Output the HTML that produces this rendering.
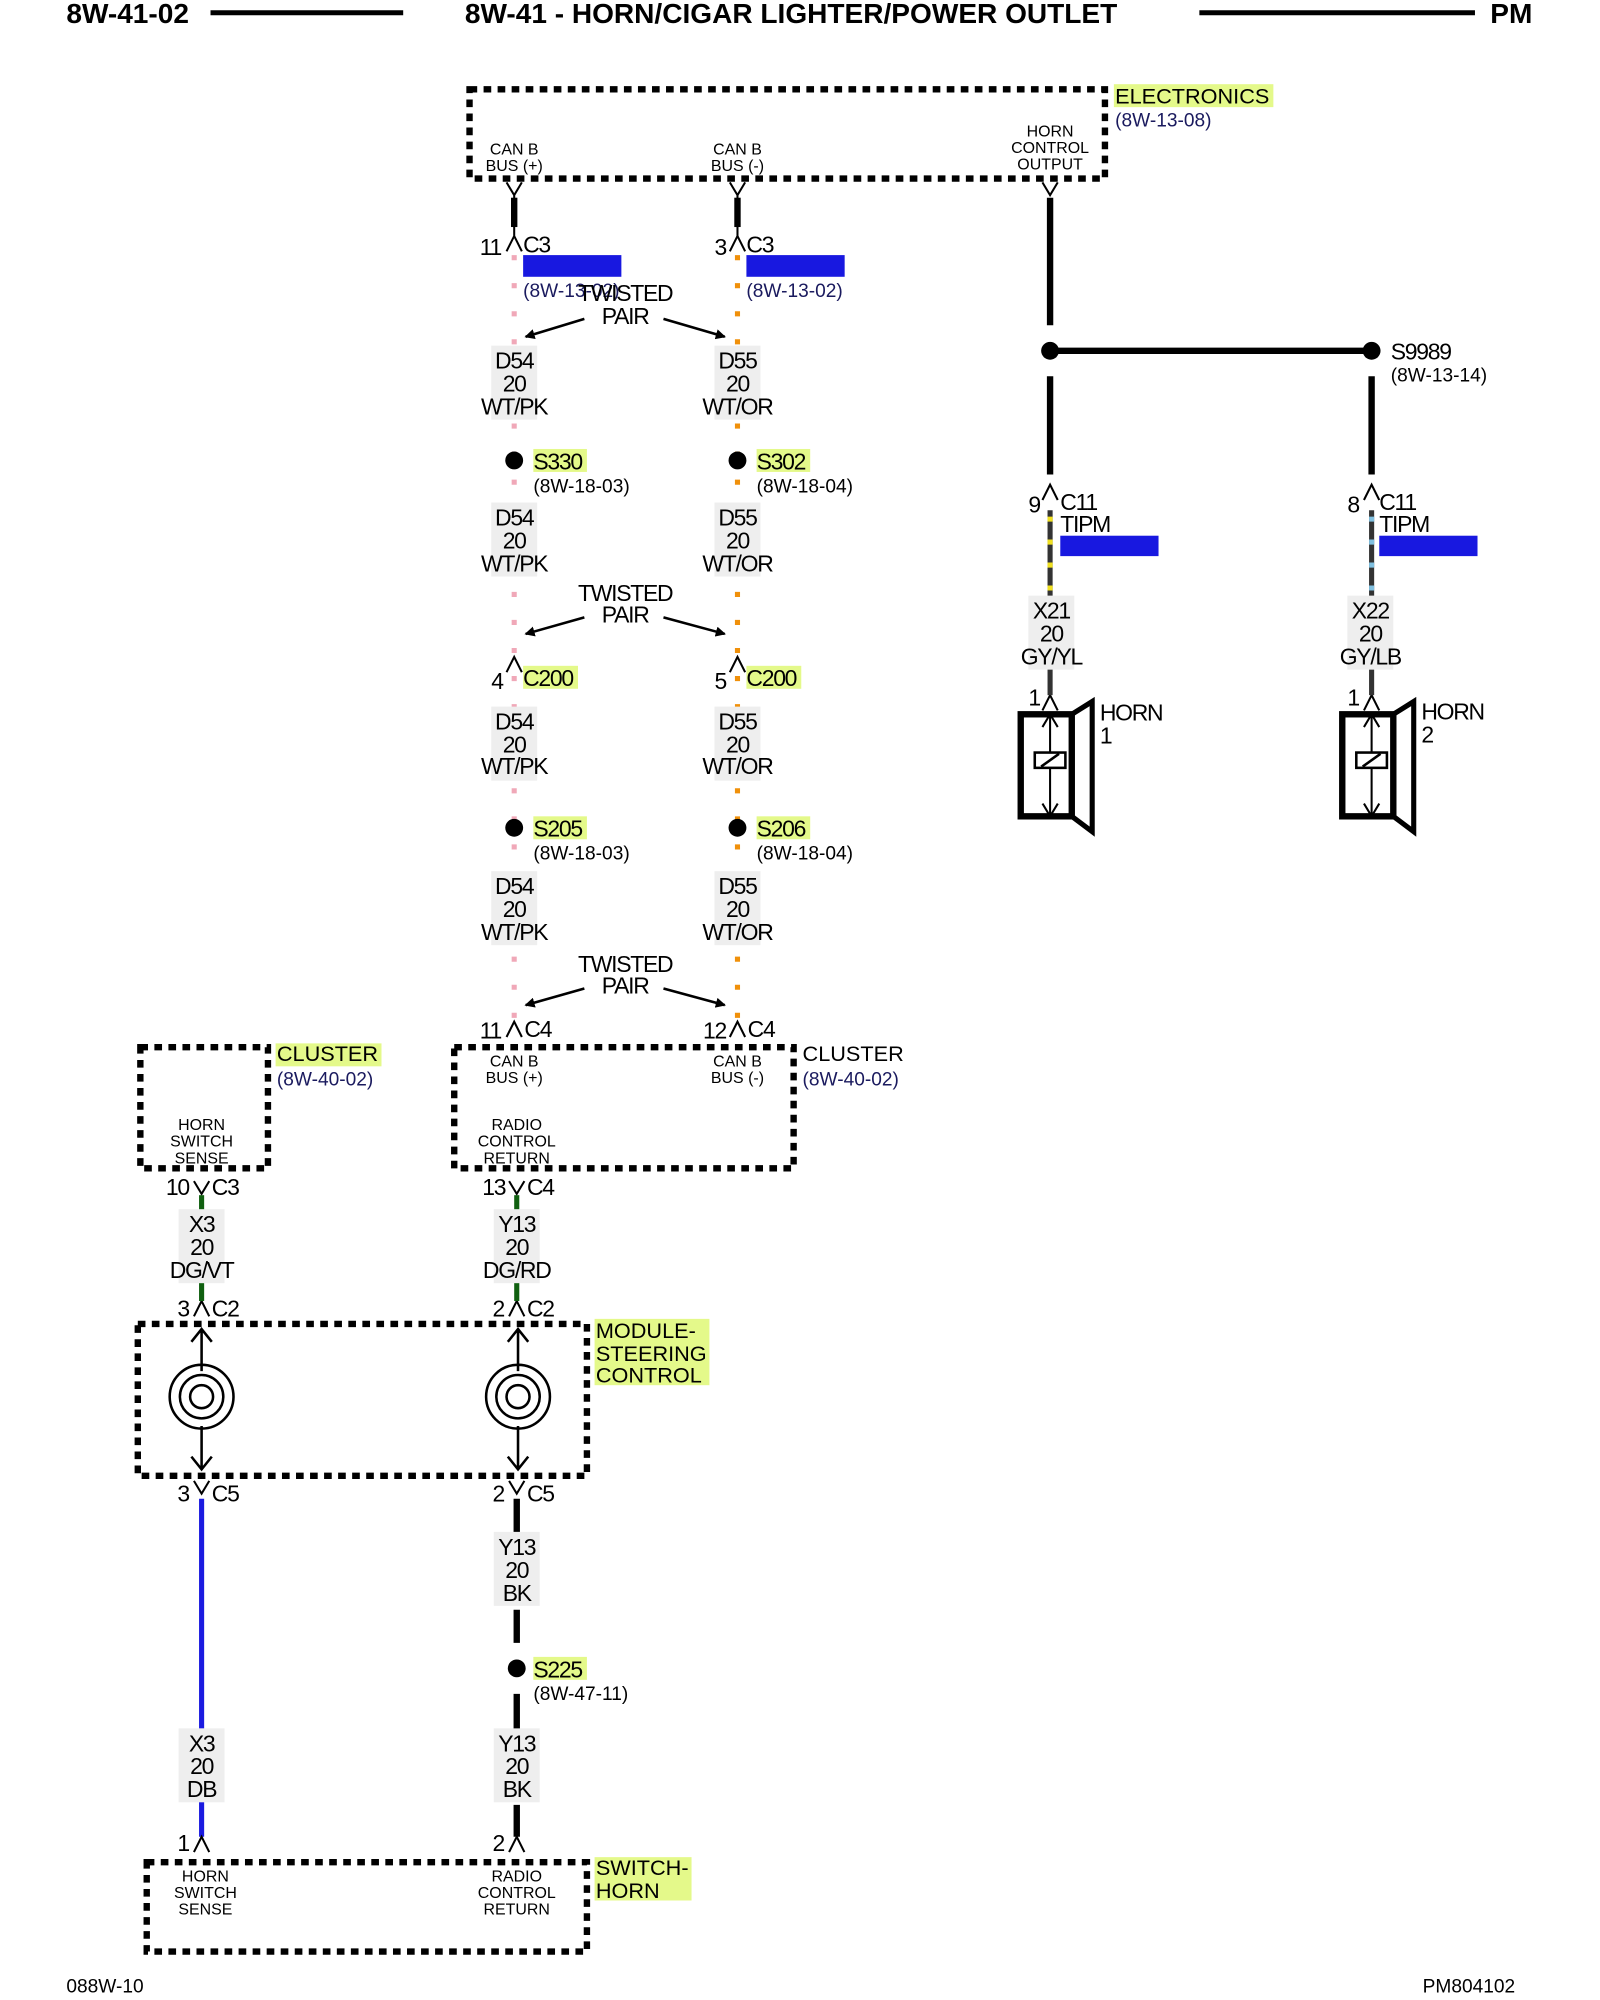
<!DOCTYPE html>
<html><head><meta charset="utf-8"><style>
html,body{margin:0;padding:0;background:#fff}
svg{display:block}
text{font-family:"Liberation Sans",Arial,sans-serif;fill:#000}
.b{font-size:18px;letter-spacing:-1px}
.s{font-size:12.5px}
.r{font-size:15px;fill:#1a1a5e}
.box{fill:none;stroke:#000;stroke-width:5;stroke-dasharray:6 5}
.w{stroke:#000;stroke-width:5;fill:none}
.t{stroke:#000;stroke-width:1.6;fill:none}
</style></head><body>
<svg width="1600" height="2000" viewBox="0 0 1254 1568" preserveAspectRatio="none" xmlns="http://www.w3.org/2000/svg">
<defs><marker id="ar" markerWidth="8" markerHeight="8" refX="7" refY="4" orient="auto" markerUnits="userSpaceOnUse"><path d="M0,0 L8,4 L0,8z" fill="#000"/></marker></defs>
<!-- header -->
<text x="52" y="18" style="font-size:22px;font-weight:bold">8W-41-02</text>
<line x1="165" y1="10" x2="316" y2="10" stroke="#000" stroke-width="4"/>
<text x="620" y="18" text-anchor="middle" style="font-size:22px;font-weight:bold">8W-41 - HORN/CIGAR LIGHTER/POWER OUTLET</text>
<line x1="940" y1="10" x2="1156" y2="10" stroke="#000" stroke-width="4"/>
<text x="1168" y="18" style="font-size:22px;font-weight:bold">PM</text>
<text x="52" y="1562" style="font-size:15px">088W-10</text>
<text x="1115" y="1562" style="font-size:15px">PM804102</text>

<!-- electronics -->
<rect class="box" x="368" y="70" width="498" height="70"/>
<rect x="873" y="66" width="125" height="18" fill="#e4f98a"/>
<text x="874" y="81" style="font-size:17px">ELECTRONICS</text>
<text x="874" y="99" class="r">(8W-13-08)</text>
<g class="s" text-anchor="middle">
<text x="403" y="121">CAN B</text><text x="403" y="134">BUS (+)</text>
<text x="578" y="121">CAN B</text><text x="578" y="134">BUS (-)</text>
<text x="823" y="107">HORN</text><text x="823" y="120">CONTROL</text><text x="823" y="133">OUTPUT</text>
</g>
<g class="t">
<path d="M397,143 L403,153 L409,143 M403,153 V158"/>
<path d="M572,143 L578,153 L584,143 M578,153 V158"/>
<path d="M817,143 L823,153 L829,143"/>
<path d="M397,197 L403,185 L409,197 M403,185 V178"/>
<path d="M572,197 L578,185 L584,197 M578,185 V178"/>
</g>
<line x1="403" y1="155" x2="403" y2="178" stroke="#000" stroke-width="5"/>
<line x1="578" y1="155" x2="578" y2="178" stroke="#000" stroke-width="5"/>
<text x="376" y="200" class="b">11</text><text x="410" y="198" class="b">C3</text>
<text x="560" y="200" class="b">3</text><text x="585" y="198" class="b">C3</text>
<!-- dotted wires -->
<line x1="403" y1="200" x2="403" y2="800" stroke="#f0a8b8" stroke-width="4" stroke-dasharray="4 18"/>
<line x1="578" y1="200" x2="578" y2="800" stroke="#f0900a" stroke-width="4" stroke-dasharray="4 18"/>
<line x1="158" y1="1175" x2="158" y2="1440" stroke="#1a1ae0" stroke-width="4"/>
<rect x="410" y="200" width="77" height="17" fill="#1818e0"/>
<rect x="585" y="200" width="77" height="17" fill="#1818e0"/>
<text x="410" y="233" class="r">(8W-13-02)</text>
<text x="585" y="233" class="r">(8W-13-02)</text>

<g class="b" text-anchor="middle">
<text x="490" y="236">TWISTED</text><text x="490" y="254">PAIR</text>
<text x="490" y="471">TWISTED</text><text x="490" y="488">PAIR</text>
<text x="490" y="762">TWISTED</text><text x="490" y="779">PAIR</text>
</g>
<g stroke="#000" stroke-width="2" marker-end="url(#ar)">
<line x1="458" y1="250" x2="412" y2="264"/><line x1="520" y1="250" x2="568" y2="264"/>
<line x1="458" y1="484" x2="412" y2="497"/><line x1="520" y1="484" x2="568" y2="497"/>
<line x1="458" y1="775" x2="412" y2="788"/><line x1="520" y1="775" x2="568" y2="788"/>
</g>

<!-- wire labels -->
<g fill="#eeeeee">
<rect x="385" y="271" width="36" height="58"/><rect x="560" y="271" width="36" height="58"/>
<rect x="385" y="394" width="36" height="58"/><rect x="560" y="394" width="36" height="58"/>
<rect x="385" y="554" width="36" height="58"/><rect x="560" y="554" width="36" height="58"/>
<rect x="385" y="683" width="36" height="58"/><rect x="560" y="683" width="36" height="58"/>
<rect x="140" y="948" width="36" height="58"/><rect x="387" y="948" width="36" height="58"/>
<rect x="387" y="1201" width="36" height="58"/>
<rect x="140" y="1355" width="36" height="58"/><rect x="387" y="1355" width="36" height="58"/>
<rect x="806" y="467" width="36" height="58"/><rect x="1056" y="467" width="36" height="58"/>
</g>
<g class="b" text-anchor="middle">
<text x="403" y="289">D54</text><text x="403" y="307">20</text><text x="403" y="325">WT/PK</text>
<text x="578" y="289">D55</text><text x="578" y="307">20</text><text x="578" y="325">WT/OR</text>
<text x="403" y="412">D54</text><text x="403" y="430">20</text><text x="403" y="448">WT/PK</text>
<text x="578" y="412">D55</text><text x="578" y="430">20</text><text x="578" y="448">WT/OR</text>
<text x="403" y="572">D54</text><text x="403" y="590">20</text><text x="403" y="607">WT/PK</text>
<text x="578" y="572">D55</text><text x="578" y="590">20</text><text x="578" y="607">WT/OR</text>
<text x="403" y="701">D54</text><text x="403" y="719">20</text><text x="403" y="737">WT/PK</text>
<text x="578" y="701">D55</text><text x="578" y="719">20</text><text x="578" y="737">WT/OR</text>
<text x="158" y="966">X3</text><text x="158" y="984">20</text><text x="158" y="1002">DG/VT</text>
<text x="405" y="966">Y13</text><text x="405" y="984">20</text><text x="405" y="1002">DG/RD</text>
<text x="405" y="1219">Y13</text><text x="405" y="1237">20</text><text x="405" y="1255">BK</text>
<text x="158" y="1373">X3</text><text x="158" y="1391">20</text><text x="158" y="1409">DB</text>
<text x="405" y="1373">Y13</text><text x="405" y="1391">20</text><text x="405" y="1409">BK</text>
<text x="824" y="485">X21</text><text x="824" y="503">20</text><text x="824" y="521">GY/YL</text>
<text x="1074" y="485">X22</text><text x="1074" y="503">20</text><text x="1074" y="521">GY/LB</text>
</g>

<!-- splices -->
<g fill="#000">
<circle cx="403" cy="361" r="7"/><circle cx="578" cy="361" r="7"/>
<circle cx="403" cy="649" r="7"/><circle cx="578" cy="649" r="7"/>
<circle cx="405" cy="1308" r="7"/>
<circle cx="823" cy="275" r="7"/><circle cx="1075" cy="275" r="7"/>
</g>
<g fill="#e4f98a">
<rect x="418" y="352" width="42" height="18"/><rect x="593" y="352" width="42" height="18"/>
<rect x="418" y="640" width="42" height="18"/><rect x="593" y="640" width="42" height="18"/>
<rect x="418" y="1299" width="42" height="18"/>
<rect x="410" y="522" width="43" height="18"/><rect x="585" y="522" width="43" height="18"/>
</g>
<g class="b">
<text x="418" y="368">S330</text><text x="593" y="368">S302</text>
<text x="418" y="656">S205</text><text x="593" y="656">S206</text>
<text x="418" y="1315">S225</text>
<text x="1090" y="282">S9989</text>
</g>
<g class="r">
<text x="418" y="386">(8W-18-03)</text><text x="593" y="386">(8W-18-04)</text>
<text x="418" y="674">(8W-18-03)</text><text x="593" y="674">(8W-18-04)</text>
<text x="418" y="1333">(8W-47-11)</text>
<text x="1090" y="299">(8W-13-14)</text>
</g>

<!-- C200 -->
<g class="t">
<path d="M397,527 L403,515 L409,527"/><path d="M572,527 L578,515 L584,527"/>
<path d="M397,813 L403,801 L409,813"/><path d="M572,813 L578,801 L584,813"/>
</g>
<text x="385" y="540" class="b">4</text><text x="410" y="538" class="b">C200</text>
<text x="560" y="540" class="b">5</text><text x="585" y="538" class="b">C200</text>
<text x="376" y="814" class="b">11</text><text x="411" y="813" class="b">C4</text>
<text x="551" y="814" class="b">12</text><text x="586" y="813" class="b">C4</text>

<!-- clusters -->
<rect class="box" x="356" y="821" width="266" height="95"/>
<rect class="box" x="110" y="821" width="100" height="95"/>
<text x="629" y="832" style="font-size:17px">CLUSTER</text>
<text x="629" y="851" class="r">(8W-40-02)</text>
<rect x="216" y="818" width="83" height="18" fill="#e4f98a"/>
<text x="217" y="832" style="font-size:17px">CLUSTER</text>
<text x="217" y="851" class="r">(8W-40-02)</text>
<g class="s" text-anchor="middle">
<text x="403" y="836">CAN B</text><text x="403" y="849">BUS (+)</text>
<text x="578" y="836">CAN B</text><text x="578" y="849">BUS (-)</text>
<text x="405" y="886">RADIO</text><text x="405" y="899">CONTROL</text><text x="405" y="912">RETURN</text>
<text x="158" y="886">HORN</text><text x="158" y="899">SWITCH</text><text x="158" y="912">SENSE</text>
</g>
<g class="t">
<path d="M152,926 L158,936 L164,926"/><path d="M399,926 L405,936 L411,926"/>
<path d="M152,1032 L158,1020 L164,1032"/><path d="M399,1032 L405,1020 L411,1032"/>
<path d="M152,1161 L158,1171 L164,1161"/><path d="M399,1161 L405,1171 L411,1161"/>
<path d="M152,1452 L158,1440 L164,1452"/><path d="M399,1452 L405,1440 L411,1452"/>
</g>
<text x="130" y="937" class="b">10</text><text x="166" y="937" class="b">C3</text>
<text x="378" y="937" class="b">13</text><text x="413" y="937" class="b">C4</text>
<line x1="158" y1="937" x2="158" y2="948" stroke="#106010" stroke-width="4"/>
<line x1="158" y1="1006" x2="158" y2="1020" stroke="#106010" stroke-width="4"/>
<line x1="405" y1="937" x2="405" y2="948" stroke="#106010" stroke-width="4"/>
<line x1="405" y1="1006" x2="405" y2="1020" stroke="#106010" stroke-width="4"/>
<text x="139" y="1032" class="b">3</text><text x="166" y="1032" class="b">C2</text>
<text x="386" y="1032" class="b">2</text><text x="413" y="1032" class="b">C2</text>

<!-- steering module -->
<rect class="box" x="108" y="1038" width="352" height="119"/>
<rect x="466" y="1034" width="90" height="52" fill="#e4f98a"/>
<g style="font-size:17px"><text x="467" y="1049">MODULE-</text><text x="467" y="1067">STEERING</text><text x="467" y="1084">CONTROL</text></g>
<g fill="none" stroke="#000" stroke-width="2">
<circle cx="158" cy="1095" r="25"/><circle cx="158" cy="1095" r="17"/><circle cx="158" cy="1095" r="9"/>
<circle cx="406" cy="1095" r="25"/><circle cx="406" cy="1095" r="17"/><circle cx="406" cy="1095" r="9"/>
<path d="M158,1075 V1042 M150,1052 L158,1042 L166,1052"/>
<path d="M406,1075 V1042 M398,1052 L406,1042 L414,1052"/>
<path d="M158,1118 V1152 M150,1142 L158,1152 L166,1142"/>
<path d="M406,1118 V1152 M398,1142 L406,1152 L414,1142"/>
</g>
<text x="139" y="1177" class="b">3</text><text x="166" y="1177" class="b">C5</text>
<text x="386" y="1177" class="b">2</text><text x="413" y="1177" class="b">C5</text>
<line x1="405" y1="1175" x2="405" y2="1201" class="w"/>
<line x1="405" y1="1262" x2="405" y2="1288" class="w"/>
<line x1="405" y1="1328" x2="405" y2="1355" class="w"/>
<line x1="405" y1="1415" x2="405" y2="1440" class="w"/>
<text x="139" y="1451" class="b">1</text><text x="386" y="1451" class="b">2</text>

<!-- switch horn -->
<rect class="box" x="115" y="1460" width="345" height="70"/>
<rect x="466" y="1456" width="76" height="34" fill="#e4f98a"/>
<g style="font-size:17px"><text x="467" y="1470">SWITCH-</text><text x="467" y="1488">HORN</text></g>
<g class="s" text-anchor="middle">
<text x="161" y="1475">HORN</text><text x="161" y="1488">SWITCH</text><text x="161" y="1501">SENSE</text>
<text x="405" y="1475">RADIO</text><text x="405" y="1488">CONTROL</text><text x="405" y="1501">RETURN</text>
</g>

<!-- right side horns -->
<path class="w" d="M823,155 V255 M823,275 H1075 M823,295 V372 M1075,295 V372"/>
<g class="t">
<path d="M817,392 L823,380 L829,392"/><path d="M1069,392 L1075,380 L1081,392"/>
<path d="M817,557 L823,545 L829,557"/><path d="M1069,557 L1075,545 L1081,557"/>
</g>
<text x="806" y="402" class="b">9</text><text x="831" y="400" class="b">C11</text>
<text x="831" y="417" class="b">TIPM</text>
<text x="1056" y="402" class="b">8</text><text x="1081" y="400" class="b">C11</text>
<text x="1081" y="417" class="b">TIPM</text>
<rect x="831" y="420" width="77" height="16" fill="#1818e0"/>
<rect x="1081" y="420" width="77" height="16" fill="#1818e0"/>
<line x1="823" y1="400" x2="823" y2="467" stroke="#333" stroke-width="4"/>
<line x1="823" y1="405" x2="823" y2="467" stroke="#f0e020" stroke-width="4" stroke-dasharray="4 14"/>
<line x1="1075" y1="400" x2="1075" y2="467" stroke="#333" stroke-width="4"/>
<line x1="1075" y1="405" x2="1075" y2="467" stroke="#80c0e0" stroke-width="4" stroke-dasharray="4 14"/>
<line x1="823" y1="525" x2="823" y2="545" stroke="#333" stroke-width="4"/>
<line x1="1075" y1="525" x2="1075" y2="545" stroke="#333" stroke-width="4"/>
<text x="806" y="553" class="b">1</text><text x="1056" y="553" class="b">1</text>
<g fill="none" stroke="#000">
<rect x="800" y="560" width="40" height="80" stroke-width="5"/>
<path d="M840,560 L856,550 V652 L840,640" stroke-width="4"/>
<path d="M823,560 V640 M817,570 L823,560 L829,570 M817,630 L823,640 L829,630" stroke-width="1.6"/>
<rect x="811" y="590" width="24" height="12" stroke-width="2" fill="#fff"/>
<path d="M816,601 L830,591" stroke-width="2"/>
<rect x="1052" y="560" width="40" height="80" stroke-width="5"/>
<path d="M1092,560 L1108,550 V652 L1092,640" stroke-width="4"/>
<path d="M1075,560 V640 M1069,570 L1075,560 L1081,570 M1069,630 L1075,640 L1081,630" stroke-width="1.6"/>
<rect x="1063" y="590" width="24" height="12" stroke-width="2" fill="#fff"/>
<path d="M1068,601 L1082,591" stroke-width="2"/>
</g>
<text x="862" y="565" class="b">HORN</text><text x="862" y="583" class="b">1</text>
<text x="1114" y="564" class="b">HORN</text><text x="1114" y="582" class="b">2</text>
</svg>
</body></html>
